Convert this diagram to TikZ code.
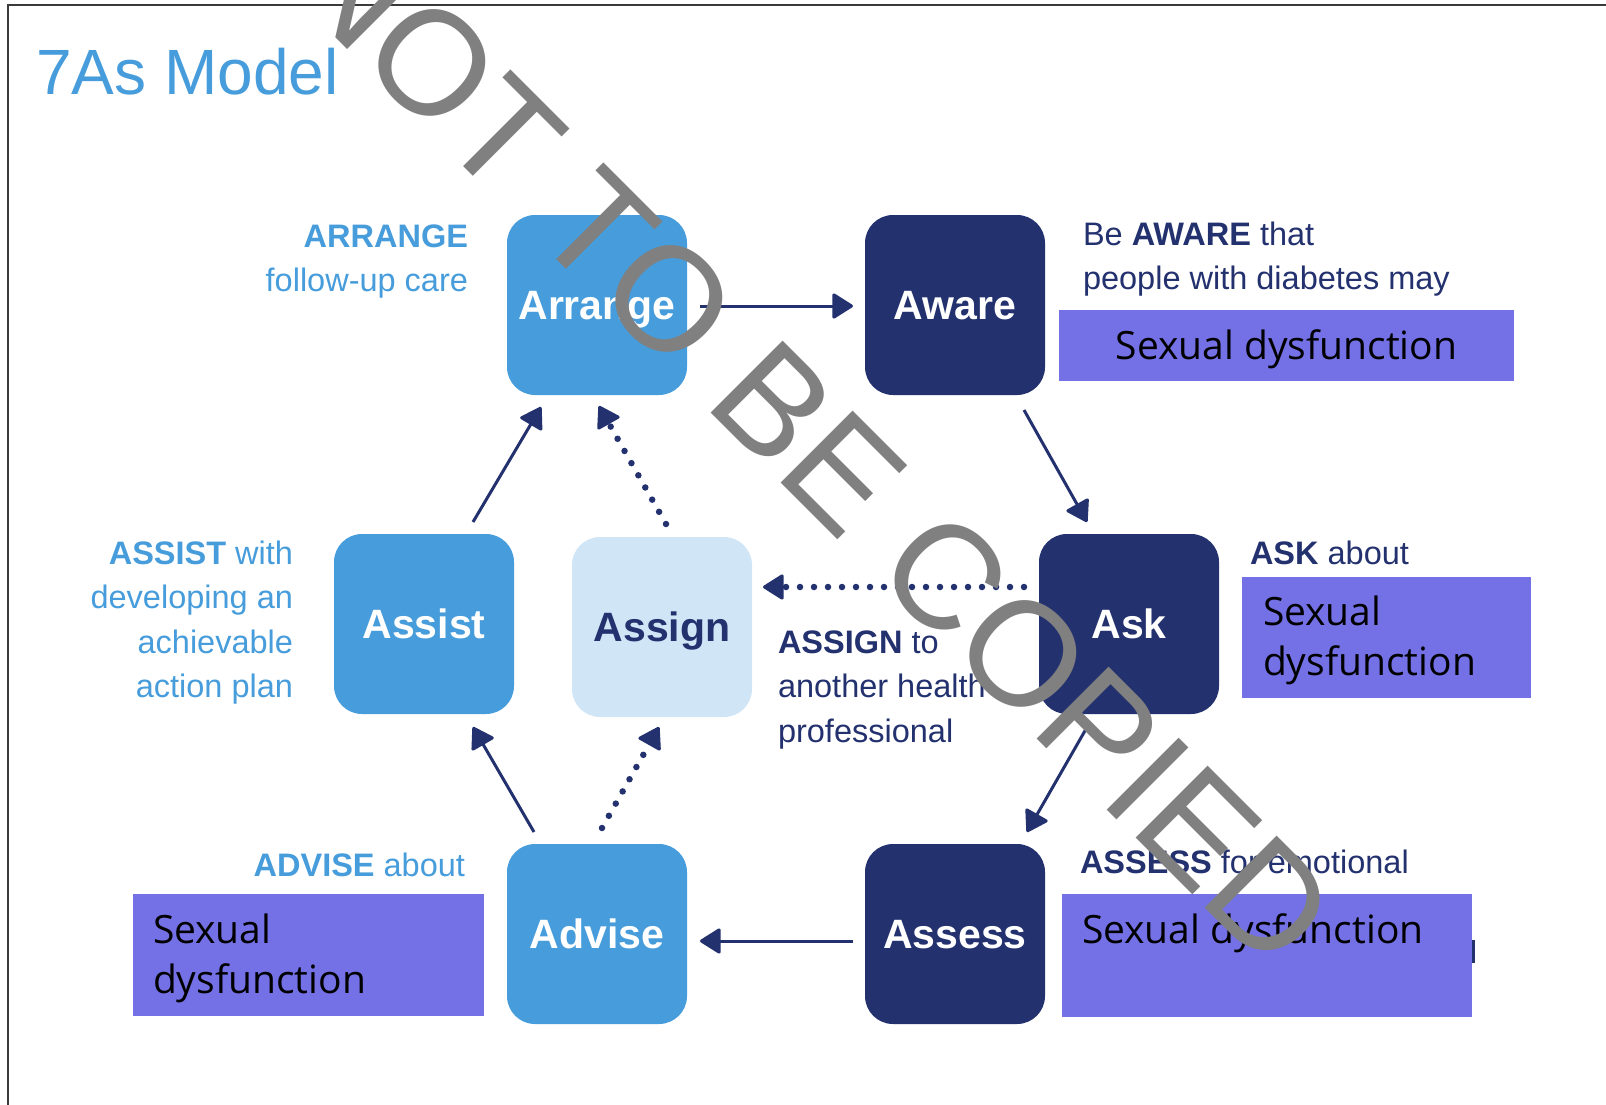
\documentclass[tikz,border=0pt]{standalone}
\usepackage{fontspec}
\setmainfont{Liberation Sans}
\newfontfamily\notefont{Open Sans}
\usetikzlibrary{arrows.meta}

\definecolor{skyblue}{HTML}{479DDB}
\definecolor{navy}{HTML}{23316F}
\definecolor{paleblue}{HTML}{D0E6F7}
\definecolor{noteviolet}{HTML}{7471E6}
\definecolor{stampgray}{HTML}{808080}
\definecolor{framegray}{HTML}{3A3A3A}

\begin{document}
\begin{tikzpicture}[x=1pt,y=-1pt,
  stage/.style={rectangle, rounded corners=28pt, minimum width=180pt, minimum height=180pt,
    inner sep=0pt, outer sep=0pt, text height=29pt, text depth=0pt,
    font=\fontsize{41}{49}\selectfont\bfseries},
  lightstage/.style={stage, fill=skyblue, text=white},
  darkstage/.style={stage, fill=navy, text=white},
  palestage/.style={stage, fill=paleblue, text=navy},
  lbl/.style={inner sep=0pt, outer sep=0pt, font=\fontsize{32.5}{44.5}\selectfont},
  notebox/.style={rectangle, fill=noteviolet, inner sep=0pt, outer sep=0pt},
  notetext/.style={inner sep=0pt, outer sep=0pt, text=black, font=\notefont\fontsize{39}{50.5}\selectfont},
  flow/.style={draw=navy, line width=3pt, -{Triangle[length=22pt,width=27pt,round]}},
  dotflow/.style={draw=navy, line width=6.5pt, line cap=round, dash pattern=on 0pt off 14pt,
    -{Triangle[length=22pt,width=27pt,round,line width=3pt]}}
]
\useasboundingbox (0,0) rectangle (1606,1105);
\fill[white] (0,0) rectangle (1606,1105);

% frame
\draw[framegray, line width=2pt] (1606,5) -- (8,5) -- (8,1105);

% title
\node[inner sep=0pt, anchor=base west, text=skyblue, font=\fontsize{64}{70}\selectfont] (title) at (36,95) {7As Model};

% side labels
\node[lbl, text=skyblue, anchor=base east] (arrangeLbl) at (468,247)
  {\begin{tabular}[t]{@{}r@{}}\textbf{ARRANGE}\\follow-up care\end{tabular}};
\node[lbl, text=navy, anchor=base west] (awareLbl) at (1083,245)
  {\begin{tabular}[t]{@{}l@{}}Be \textbf{AWARE} that\\people with diabetes may\end{tabular}};
\node[lbl, text=skyblue, anchor=base east] (assistLbl) at (293,564)
  {\begin{tabular}[t]{@{}r@{}}\textbf{ASSIST} with\\developing an\\achievable\\action plan\end{tabular}};
\node[lbl, text=navy, anchor=base west] (assignLbl) at (778,653)
  {\begin{tabular}[t]{@{}l@{}}\textbf{ASSIGN} to\\another health\\professional\end{tabular}};
\node[lbl, text=navy, anchor=base west] (askLbl) at (1250,564) {\textbf{ASK} about};
\node[lbl, text=skyblue, anchor=base east] (adviseLbl) at (465,876) {\textbf{ADVISE} about};
\node[lbl, text=navy, anchor=base west] (assessLbl) at (1080,873) {\textbf{ASSESS} for emotional};

% note boxes
\node[notebox, minimum width=455pt, minimum height=71pt] (noteAware) at (1286.5,345.5) {};
\node[notetext, anchor=base] (noteAwareTxt) at (1286.5,359) {Sexual dysfunction};
\node[notebox, minimum width=289pt, minimum height=121pt] (noteAsk) at (1386.5,637.5) {};
\node[notetext, anchor=base west] (noteAskTxt) at (1263,625)
  {\begin{tabular}[t]{@{}l@{}}Sexual\\dysfunction\end{tabular}};
\node[notebox, minimum width=351pt, minimum height=122pt] (noteAdvise) at (308.5,955) {};
\node[notetext, anchor=base west] (noteAdviseTxt) at (153,943)
  {\begin{tabular}[t]{@{}l@{}}Sexual\\dysfunction\end{tabular}};
\node[notebox, minimum width=410pt, minimum height=123pt] (noteAssess) at (1267,955.5) {};
\node[notetext, anchor=base west] (noteAssessTxt) at (1082,943) {Sexual dysfunction};
\fill[navy] (1472,940) rectangle (1475,963);

% stages
\node[lightstage] (arrange) at (597,305) {Arrange};
\node[darkstage]  (aware)   at (955,305) {Aware};
\node[lightstage] (assist)  at (424,624) {Assist};
\node[palestage]  (assign)  at (662,627) {Assign};
\node[darkstage]  (ask)     at (1129,624) {Ask};
\node[lightstage] (advise)  at (597,934) {Advise};
\node[darkstage]  (assess)  at (955,934) {Assess};

% cycle
\draw[flow] ([shift={(13,1)}]arrange.east) -- ([shift={(-12,1)}]aware.west);
\draw[flow] ([shift={(-21,15)}]aware.south east) -- ([shift={(48,-12)}]ask.north west);
\draw[flow] ([shift={(47,15)}]ask.south west) -- ([shift={(-18,-12)}]assess.north east);
\draw[flow] ([shift={(-12,7)}]assess.west) -- ([shift={(13,7)}]advise.east);
\draw[flow] ([shift={(27,-12)}]advise.north west) -- ([shift={(-41,13)}]assist.south east);
\draw[flow] ([shift={(-41,-12)}]assist.north east) -- ([shift={(34,12)}]arrange.south west);

% referral path
\draw[dotflow] ([shift={(5,-16)}]advise.north) -- ([shift={(-3,10)}]assign.south);
\draw[dotflow] ([shift={(4,-13)}]assign.north) -- ([shift={(2,11)}]arrange.south);
\draw[dotflow] ([shift={(-15,-37)}]ask.west) -- ([shift={(11,-40)}]assign.east);

% watermark
\node[inner sep=0pt, outer sep=0pt, anchor=base west, rotate=-45, text=stampgray,
  font=\fontsize{148}{150}\selectfont] (stamp) at (280,-17.5) {NOT TO BE COPIED};
\end{tikzpicture}
\end{document}
